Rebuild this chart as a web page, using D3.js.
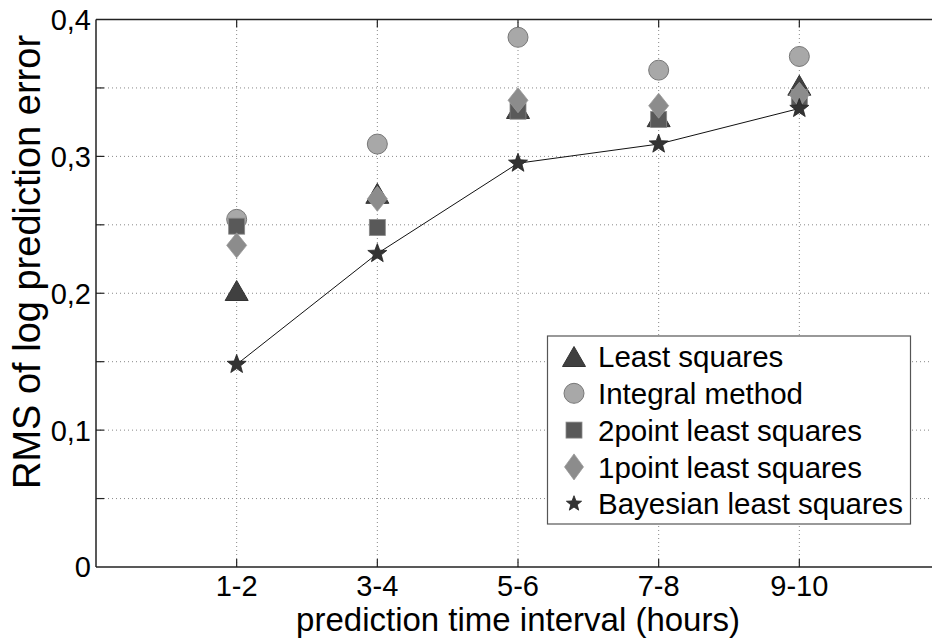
<!DOCTYPE html>
<html><head><meta charset="utf-8">
<script src="https://cdn.jsdelivr.net/npm/d3@7/dist/d3.min.js"></script>
<style>body{margin:0;background:#fff;}svg{display:block;font-family:"Liberation Sans",Arial,sans-serif;}</style>
</head><body>
<svg id="c" width="932" height="639"></svg>
<script>
const categories = ["1-2","3-4","5-6","7-8","9-10"];
const leastSquares = [0.202, 0.273, 0.335, 0.329, 0.352];
const integralMethod = [0.254, 0.309, 0.387, 0.363, 0.373];
const twoPoint = [0.249, 0.248, 0.333, 0.327, 0.343];
const onePoint = [0.235, 0.269, 0.341, 0.337, 0.345];
const bayesian = [0.148, 0.229, 0.295, 0.309, 0.335];
const yTicks = [0, 0.1, 0.2, 0.3, 0.4];
const yGrid = [0.05, 0.1, 0.15, 0.2, 0.25, 0.3, 0.35];
const yMinor = [0.05, 0.1, 0.15, 0.2, 0.25, 0.3, 0.35];
const seriesNames = ["Least squares","Integral method","2point least squares","1point least squares","Bayesian least squares"];

const svg = d3.select("#c");
const x = d3.scaleLinear().domain([0, 6]).range([96, 940]);
const y = d3.scaleLinear().domain([0, 0.4]).range([567, 19.5]);
const xPos = i => x(i + 1);

// grid
const g = svg.append("g");
g.selectAll("line.hg").data(yGrid).enter().append("line")
  .attr("x1", x(0)).attr("x2", x(6)).attr("y1", d => y(d)).attr("y2", d => y(d))
  .attr("stroke", "#888").attr("stroke-width", 1).attr("stroke-dasharray", "1,3");
g.selectAll("line.vg").data(categories).enter().append("line")
  .attr("x1", (d, i) => xPos(i)).attr("x2", (d, i) => xPos(i))
  .attr("y1", y(0)).attr("y2", y(0.4))
  .attr("stroke", "#888").attr("stroke-width", 1).attr("stroke-dasharray", "1,3");

// axes frame
svg.append("line").attr("x1", x(0)).attr("x2", x(6)).attr("y1", y(0)).attr("y2", y(0)).attr("stroke", "#222").attr("stroke-width", 1.5);
svg.append("line").attr("x1", x(0)).attr("x2", x(6)).attr("y1", y(0.4)).attr("y2", y(0.4)).attr("stroke", "#222").attr("stroke-width", 1.5);
svg.append("line").attr("x1", x(0)).attr("x2", x(0)).attr("y1", y(0)).attr("y2", y(0.4)).attr("stroke", "#222").attr("stroke-width", 1.5);

// ticks
const tl = 8;
svg.selectAll("line.yt").data(yMinor).enter().append("line")
  .attr("x1", x(0)).attr("x2", x(0) + tl).attr("y1", d => y(d)).attr("y2", d => y(d))
  .attr("stroke", "#222").attr("stroke-width", 1.2);
svg.selectAll("line.xtb").data(categories).enter().append("line")
  .attr("x1", (d, i) => xPos(i)).attr("x2", (d, i) => xPos(i))
  .attr("y1", y(0)).attr("y2", y(0) - tl).attr("stroke", "#222").attr("stroke-width", 1.2);
svg.selectAll("line.xtt").data(categories).enter().append("line")
  .attr("x1", (d, i) => xPos(i)).attr("x2", (d, i) => xPos(i))
  .attr("y1", y(0.4)).attr("y2", y(0.4) + tl).attr("stroke", "#222").attr("stroke-width", 1.2);

// tick labels
svg.selectAll("text.yl").data(yTicks).enter().append("text")
  .attr("x", 91).attr("y", d => y(d)).attr("dy", "0.36em")
  .attr("text-anchor", "end").attr("font-size", 29).attr("fill", "#000")
  .text(d => d === 0 ? "0" : d3.format(".1f")(d).replace(".", ","));
svg.selectAll("text.xl").data(categories).enter().append("text")
  .attr("x", (d, i) => xPos(i)).attr("y", 596)
  .attr("text-anchor", "middle").attr("font-size", 29).attr("fill", "#000")
  .text(d => d);

// axis titles
svg.append("text").attr("x", 518).attr("y", 631).attr("text-anchor", "middle")
  .attr("font-size", 33).text("prediction time interval (hours)");
svg.append("text").attr("transform", "translate(40,262) rotate(-90)").attr("text-anchor", "middle")
  .attr("font-size", 38).text("RMS of log prediction error");

// marker shapes
const triPath = (w, h) => `M0,${-h/2}L${w/2},${h/2}L${-w/2},${h/2}Z`;
const diaPath = (w, h) => `M0,${-h/2}L${w/2},0L0,${h/2}L${-w/2},0Z`;
function starPath(R, r) {
  let p = "";
  for (let k = 0; k < 10; k++) {
    const rad = k % 2 === 0 ? R : r;
    const a = -Math.PI / 2 + k * Math.PI / 5;
    p += (k === 0 ? "M" : "L") + (rad * Math.cos(a)).toFixed(2) + "," + (rad * Math.sin(a)).toFixed(2);
  }
  return p + "Z";
}

// Least squares triangles
svg.selectAll("path.tri").data(leastSquares).enter().append("path")
  .attr("d", triPath(23, 20)).attr("transform", (d, i) => `translate(${xPos(i)},${y(d)})`)
  .attr("fill", "#404040").attr("stroke", "#333").attr("stroke-width", 1);
// Integral method circles
svg.selectAll("circle.int").data(integralMethod).enter().append("circle")
  .attr("cx", (d, i) => xPos(i)).attr("cy", d => y(d)).attr("r", 10)
  .attr("fill", "#a8a8a8").attr("stroke", "#777").attr("stroke-width", 1);
// 2point squares
svg.selectAll("rect.sq").data(twoPoint).enter().append("rect")
  .attr("x", (d, i) => xPos(i) - 8).attr("y", d => y(d) - 8).attr("width", 16).attr("height", 16)
  .attr("fill", "#595959").attr("stroke", "#8a8a8a").attr("stroke-width", 0.8);
// 1point diamonds
svg.selectAll("path.dia").data(onePoint).enter().append("path")
  .attr("d", diaPath(20, 25)).attr("transform", (d, i) => `translate(${xPos(i)},${y(d)})`)
  .attr("fill", "#8c8c8c").attr("stroke", "#999").attr("stroke-width", 0.8);
// Bayesian line + stars
const line = d3.line().x((d, i) => xPos(i)).y(d => y(d));
svg.append("path").datum(bayesian).attr("d", line).attr("fill", "none")
  .attr("stroke", "#111").attr("stroke-width", 1);
svg.selectAll("path.star").data(bayesian).enter().append("path")
  .attr("d", starPath(10, 4.2)).attr("transform", (d, i) => `translate(${xPos(i)},${y(d)})`)
  .attr("fill", "#333").attr("stroke", "#222").attr("stroke-width", 0.8);

// legend
const lg = svg.append("g");
lg.append("rect").attr("x", 547.5).attr("y", 336).attr("width", 363).attr("height", 188)
  .attr("fill", "#fff").attr("stroke", "#555").attr("stroke-width", 1.2);
const rowY = i => 356.5 + i * 36.8;
const mx = 574;
lg.append("path").attr("d", triPath(23, 20)).attr("transform", `translate(${mx},${rowY(0)})`).attr("fill", "#404040").attr("stroke", "#333");
lg.append("circle").attr("cx", mx).attr("cy", rowY(1)).attr("r", 10).attr("fill", "#a8a8a8").attr("stroke", "#777");
lg.append("rect").attr("x", mx - 8).attr("y", rowY(2) - 8).attr("width", 16).attr("height", 16).attr("fill", "#595959").attr("stroke", "#8a8a8a").attr("stroke-width", 0.8);
lg.append("path").attr("d", diaPath(19, 26)).attr("transform", `translate(${mx},${rowY(3)})`).attr("fill", "#8c8c8c").attr("stroke", "#999").attr("stroke-width", 0.8);
lg.append("path").attr("d", starPath(8, 3.4)).attr("transform", `translate(${mx},${rowY(4)})`).attr("fill", "#333").attr("stroke", "#222").attr("stroke-width", 0.8);
lg.selectAll("text").data(seriesNames).enter().append("text")
  .attr("x", 598).attr("y", (d, i) => rowY(i)).attr("dy", "0.36em")
  .attr("font-size", 29.5).attr("fill", "#000").text(d => d);
</script>
</body></html>
